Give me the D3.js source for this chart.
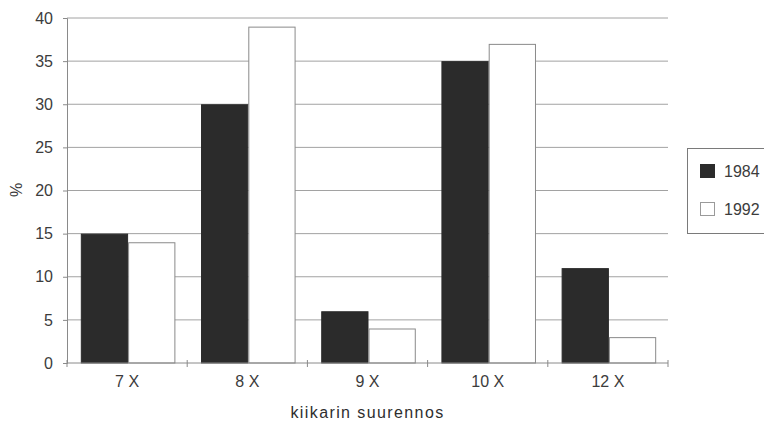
<!DOCTYPE html>
<html>
<head>
<meta charset="utf-8">
<script src="https://cdn.jsdelivr.net/npm/d3@7/dist/d3.min.js"></script>
<style>
  html, body { margin: 0; padding: 0; background: #fff; }
  svg { display: block; font-family: "Liberation Sans", Arial, sans-serif; }
</style>
</head>
<body>
<svg id="chart" width="764" height="425"></svg>
<script>
// Binocular magnification shares by survey year
const categories = ["7 X", "8 X", "9 X", "10 X", "12 X"];
const seriesNames = ["1984", "1992"];
const values1984 = [15, 30, 6, 35, 11];
const values1992 = [14, 39, 4, 37, 3];
const yTicks = [0, 5, 10, 15, 20, 25, 30, 35, 40];

const fills = { "1984": "#2b2b2b", "1992": "#ffffff" };
const strokes = { "1984": "#2b2b2b", "1992": "#8a8a8a" };
const textColor = "#3c3c3c";

const svg = d3.select("#chart");
const margin = { left: 67, right: 96, top: 18, bottom: 62 };
const width = 764 - margin.left - margin.right;
const height = 425 - margin.top - margin.bottom;

const g = svg.append("g").attr("transform", `translate(${margin.left},${margin.top})`);

const x0 = d3.scaleBand().domain(categories).range([0, width]).paddingInner(0).paddingOuter(0);
const x1 = d3.scaleBand().domain(seriesNames).range([2, x0.bandwidth()]).paddingOuter(0.25).paddingInner(0);
const y = d3.scaleLinear().domain([0, 40]).range([height, 0]);

// horizontal gridlines
g.append("g").selectAll("line").data(yTicks.filter(d => d > 0)).join("line")
  .attr("x1", 0).attr("x2", width)
  .attr("y1", d => y(d)).attr("y2", d => y(d))
  .attr("stroke", "#a2a2a2").attr("stroke-width", 1);

// y axis
const yAxis = g.append("g").call(d3.axisLeft(y).tickValues(yTicks).tickSize(4).tickPadding(10));
yAxis.select(".domain").attr("stroke", "#8a8a8a");
yAxis.selectAll(".tick line").attr("stroke", "#8a8a8a");
yAxis.selectAll("text").attr("font-size", 16).attr("fill", textColor);

// bars
const rows = categories.map((c, i) => ({ cat: c, vals: [
  { key: "1984", v: values1984[i] }, { key: "1992", v: values1992[i] }
]}));

g.append("g").selectAll("g").data(rows).join("g")
  .attr("transform", d => `translate(${x0(d.cat)},0)`)
  .selectAll("rect").data(d => d.vals).join("rect")
  .attr("x", d => x1(d.key) + 0.5)
  .attr("y", d => y(d.v) + 0.5)
  .attr("width", x1.bandwidth() - 1)
  .attr("height", d => height - y(d.v) - 0.5)
  .attr("fill", d => fills[d.key])
  .attr("stroke", d => strokes[d.key])
  .attr("stroke-width", 1);

// x axis with ticks crossing the baseline at band boundaries
const xa = g.append("g").attr("transform", `translate(0,${height})`);
xa.append("line").attr("x1", 0).attr("x2", width).attr("y1", 0).attr("y2", 0)
  .attr("stroke", "#8a8a8a");
const bounds = categories.map(c => x0(c)).concat([width]);
xa.selectAll("line.tk").data(bounds).join("line").attr("class", "tk")
  .attr("x1", d => d).attr("x2", d => d).attr("y1", -3).attr("y2", 4)
  .attr("stroke", "#8a8a8a");
xa.selectAll("text").data(categories).join("text")
  .attr("x", d => x0(d) + x0.bandwidth() / 2)
  .attr("y", 24)
  .attr("text-anchor", "middle")
  .attr("font-size", 16).attr("fill", textColor)
  .text(d => d);

// axis titles
svg.append("text")
  .attr("x", margin.left + width / 2).attr("y", 418)
  .attr("text-anchor", "middle").attr("font-size", 16).attr("letter-spacing", 1.4)
  .attr("fill", "#2e2e2e")
  .text("kiikarin suurennos");
svg.append("text")
  .attr("transform", "translate(22,190) rotate(-90)")
  .attr("text-anchor", "middle").attr("font-size", 16).attr("fill", textColor)
  .text("%");

// legend
const lg = svg.append("g").attr("transform", "translate(687,148)");
lg.append("rect").attr("x", 0.5).attr("y", 0.5).attr("width", 90).attr("height", 85)
  .attr("fill", "#fff").attr("stroke", "#7a7a7a");
seriesNames.forEach((s, i) => {
  const yy = 16 + i * 38;
  lg.append("rect").attr("x", 13.5).attr("y", yy + 0.5).attr("width", 14).attr("height", 13)
    .attr("fill", fills[s]).attr("stroke", s === "1984" ? "#2b2b2b" : "#9a9a9a");
  lg.append("text").attr("x", 37).attr("y", yy + 13).attr("font-size", 16).attr("fill", textColor).text(s);
});
</script>
</body>
</html>
